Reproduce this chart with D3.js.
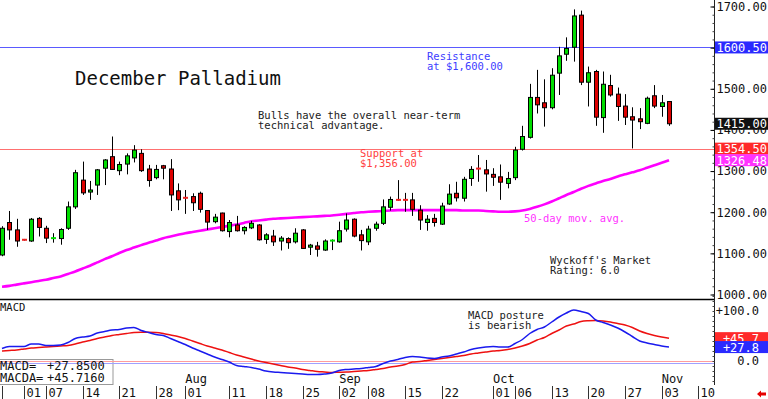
<!DOCTYPE html>
<html>
<head>
<meta charset="utf-8">
<script src="https://cdn.jsdelivr.net/npm/d3@7"></script>
<style>
  html, body { margin: 0; padding: 0; background: #fff; }
  svg text { font-family: "DejaVu Sans Mono", "Liberation Mono", monospace; }
</style>
</head>
<body>
<div id="chart"></div>
<script>
// daily OHLC, Jun 26 .. Nov 04 (trading days)
const opens = [1096,1175,1157,1134,1130,1185,1161,1136,1136,1161,1213,1278,1249,1266,1307,1335,1301,1317,1332,1343,
  1305,1284,1313,1305,1252,1236,1238,1246,1204,1177,1198,1153,1169,1155,1162,1169,1134,1142,1130,1136,
  1128,1157,1115,1118,1108,1130,1128,1159,1183,1145,1128,1161,1173,1212,1231,1231,1230,1205,1175,1185,
  1171,1220,1246,1234,1282,1307,1303,1292,1286,1270,1284,1353,1382,1479,1466,1454,1538,1584,1601,1679,
  1516,1542,1430,1508,1487,1458,1432,1427,1416,1483,1457,1469];
const highs = [1166,1203,1184,1135,1186,1188,1167,1149,1161,1226,1303,1323,1276,1305,1329,1384,1323,1343,1363,1353,
  1315,1315,1315,1329,1270,1254,1246,1250,1205,1196,1199,1181,1191,1166,1179,1171,1149,1157,1142,1139,
  1161,1159,1123,1128,1134,1134,1177,1197,1185,1157,1167,1177,1231,1238,1278,1247,1247,1217,1193,1196,
  1223,1268,1274,1286,1312,1339,1327,1307,1316,1298,1359,1410,1512,1546,1523,1550,1602,1625,1693,1690,
  1554,1546,1542,1534,1503,1487,1455,1453,1481,1509,1485,1469];
const lows = [1093,1133,1116,1131,1128,1141,1125,1126,1121,1157,1208,1242,1230,1242,1266,1303,1290,1292,1321,1298,
  1262,1280,1280,1203,1205,1196,1203,1199,1157,1173,1153,1139,1153,1146,1159,1131,1123,1118,1107,1111,
  1124,1111,1096,1092,1106,1108,1126,1153,1139,1107,1120,1155,1169,1204,1228,1201,1191,1157,1155,1165,
  1169,1218,1226,1226,1264,1274,1250,1264,1230,1258,1278,1350,1379,1440,1408,1450,1485,1568,1566,1509,
  1457,1410,1393,1481,1422,1412,1355,1402,1414,1453,1432,1410];
const closes = [1161,1157,1130,1132,1183,1163,1137,1138,1158,1213,1296,1247,1254,1303,1327,1304,1316,1337,1351,1301,
  1277,1304,1307,1242,1230,1234,1223,1207,1176,1188,1155,1175,1155,1163,1173,1133,1145,1128,1137,1126,
  1149,1112,1120,1110,1130,1132,1155,1181,1142,1131,1159,1171,1213,1231,1229,1229,1207,1181,1183,1175,
  1215,1244,1235,1280,1304,1305,1293,1285,1273,1282,1351,1384,1479,1461,1454,1533,1580,1598,1677,1516,
  1539,1431,1511,1485,1457,1431,1424,1420,1477,1458,1466,1415];

// 50-day moving average
const ma50 = [1019,1021,1024,1027,1030,1033,1036,1040,1044,1050,1056,1063,1070,1078,1086,1093,1101,1108,1114,1120,
  1126,1131,1137,1141,1145,1149,1152,1155,1158,1161,1164,1167,1170,1174,1178,1180,1182,1184,1185,1186,
  1187,1188,1189,1190,1191,1192,1194,1196,1198,1200,1201,1202,1203,1204,1205,1205,1205,1205,1205,1205,
  1205,1205,1205,1204,1204,1204,1203,1202,1201,1201,1202,1204,1208,1213,1219,1226,1234,1242,1249,1257,
  1264,1270,1276,1281,1287,1292,1297,1302,1308,1314,1320,1326.48];

// MACD (blue) and signal MACDA (red)
const macd = [25,29,29,29,34,34,31,31,32,37,45,48,50,56,59,62,63,66,67,61,
  57,53,51,45,39,33,26,20,14,8,3,-2,-9,-11,-13,-16,-20,-22,-23,-24,
  -25,-26,-27,-27,-26,-24,-19,-17,-16,-15,-13,-11,-5,0,3,7,9,8,6,5,
  8,10,14,18,23,26,28,29,28,28,35,43,55,63,68,78,88,96,102,99,
  95,82,77,72,66,58,49,40,36,33,30,27.85];
const signal = [20,21,22,24,26,27,28,29,30,31,34,38,41,45,48,51,53,55,57,57.5,
  57.5,57,55,52,49,45,40,35,30,26,22,17,12,8,4,0,-3,-6,-9,-12,
  -14,-17,-19,-21,-22,-23,-22.5,-22,-21,-20,-19,-17,-15,-12,-10,-7,-2,-1,1,3,
  5,7,9,11,14,16,18,20,21,23,26,30,35,42,47,55,62,70,74,79,
  80.5,81,80,78,75,72,67,60,55,51,48,45.716];

// date axis: day index -> label
const tickIdx = [0, 3, 6, 11, 16, 21, 25, 31, 36, 41, 46, 50, 55, 60, 67, 70, 75, 80, 85, 90, 95];
const tickLabels = ['', '01', '07', '14', '21', '28', '01', '11', '18', '25', '02', '08', '15', '22', '01', '06', '13', '20', '27', '03', '10'];
const monthIdx = [25, 46, 67, 90];
const monthLabels = ['Aug', 'Sep', 'Oct', 'Nov'];

const priceTicks = [1000, 1100, 1200, 1300, 1400, 1500, 1600, 1700];
const resistance = 1600.50;
const support = 1354.50;

const W = 768, H = 399;
const axisX = 714;

const svg = d3.select('#chart').append('svg')
  .attr('width', W)
  .attr('height', H);

const x = d3.scaleLinear().domain([0, 91]).range([2, 669]);
const y = d3.scaleLinear().domain([1000, 1700]).range([294.5, 6.5]);
const yM = d3.scaleLinear().domain([0, 100]).range([361, 311]);

// one decimal, cut not rounded (axis tags)
const trunc1 = v => (v >= 0 ? '+' : '') + (Math.floor(v * 10) / 10).toFixed(1);

// horizontal reference line across the plot (1px filled strip)
function hline(yPos, color) {
  svg.append('rect')
    .attr('x', 0).attr('width', axisX)
    .attr('y', Math.round(yPos)).attr('height', 1)
    .attr('fill', color);
}

// support / resistance lines
hline(y(resistance), '#5a5aff');
hline(y(support), '#ff7070');

// moving average
svg.append('path')
  .datum(ma50)
  .attr('fill', 'none')
  .attr('stroke', '#ff00ff')
  .attr('stroke-width', 2.6)
  .attr('d', d3.line().x((d, i) => x(i)).y(d => y(d)).curve(d3.curveMonotoneX));

// candles
const candles = svg.append('g').selectAll('g')
  .data(d3.range(opens.length))
  .enter().append('g');

candles.append('line')
  .attr('x1', i => Math.round(x(i)) + 0.5)
  .attr('x2', i => Math.round(x(i)) + 0.5)
  .attr('y1', i => y(highs[i]))
  .attr('y2', i => y(lows[i]))
  .attr('stroke', '#000');

candles.filter(i => Math.abs(opens[i] - closes[i]) >= 3)
  .append('rect')
  .attr('x', i => Math.round(x(i)) - 1.5)
  .attr('width', 4)
  .attr('y', i => y(Math.max(opens[i], closes[i])))
  .attr('height', i => Math.abs(y(opens[i]) - y(closes[i])))
  .attr('fill', i => closes[i] > opens[i] ? '#00dd00' : '#dd0000')
  .attr('stroke', '#000')
  .attr('stroke-width', 1);

// doji: short colored dash
candles.filter(i => Math.abs(opens[i] - closes[i]) < 3)
  .append('rect')
  .attr('x', i => Math.round(x(i)) - 2)
  .attr('width', 5)
  .attr('y', i => y((opens[i] + closes[i]) / 2) - 1)
  .attr('height', 2)
  .attr('fill', i => closes[i] > opens[i] ? '#00dd00' : '#ee2222');

// price panel bottom border
svg.append('line')
  .attr('x1', 0).attr('x2', axisX)
  .attr('y1', 299.5).attr('y2', 299.5)
  .attr('stroke', '#000')
  .attr('stroke-width', 1.5);

// MACD panel
svg.append('rect')
  .attr('x', -1).attr('y', 359.5)
  .attr('width', 114).attr('height', 25)
  .attr('fill', '#fff')
  .attr('stroke', '#999');

hline(yM(0), '#ff9c9c');
hline(yM(0) + 2, '#a0a0ff');

const macdLine = d3.line().x((d, i) => x(i)).y(d => yM(d)).curve(d3.curveMonotoneX);
svg.append('path').datum(signal)
  .attr('fill', 'none').attr('stroke', '#ee1111').attr('stroke-width', 1.5)
  .attr('d', macdLine);
svg.append('path').datum(macd)
  .attr('fill', 'none').attr('stroke', '#1a1aee').attr('stroke-width', 1.5)
  .attr('d', macdLine);

const legend = svg.append('g').attr('font-size', 12).attr('fill', '#111');
legend.append('text').attr('x', 0).attr('y', 369.5).text('MACD=');
legend.append('text').attr('x', 47).attr('y', 369.5).text('+' + macd[macd.length - 1].toFixed(4));
legend.append('text').attr('x', 0).attr('y', 381.5).text('MACDA=');
legend.append('text').attr('x', 47).attr('y', 381.5).text('+' + signal[signal.length - 1].toFixed(4));

svg.append('text')
  .attr('x', 0).attr('y', 311)
  .attr('font-size', 10.5)
  .attr('fill', '#111')
  .text('MACD');

// right axis line + ticks
svg.append('line')
  .attr('x1', axisX + 0.5).attr('x2', axisX + 0.5)
  .attr('y1', 0).attr('y2', 385)
  .attr('stroke', '#222');

const minorP = svg.append('g')
  .attr('transform', 'translate(' + (axisX + 0.5) + ',0)')
  .call(d3.axisLeft(y).tickValues(d3.range(1000, 1701, 20)).tickSize(2).tickFormat(''));
minorP.select('.domain').remove();
minorP.selectAll('line').attr('stroke', '#444');

const majorP = svg.append('g')
  .attr('transform', 'translate(' + (axisX + 0.5) + ',0)')
  .call(d3.axisLeft(y).tickValues(priceTicks).tickSize(4).tickFormat(''));
majorP.select('.domain').remove();

const minorM = svg.append('g')
  .attr('transform', 'translate(' + (axisX + 0.5) + ',0)')
  .call(d3.axisLeft(yM).tickValues(d3.range(-40, 131, 10)).tickSize(2).tickFormat(''));
minorM.select('.domain').remove();
minorM.selectAll('line').attr('stroke', '#444');

// price labels
const priceLabels = svg.append('g')
  .attr('transform', 'translate(770,0)')
  .call(d3.axisLeft(y).tickValues(priceTicks).tickSize(0).tickPadding(3).tickFormat(d3.format('.2f')));
priceLabels.select('.domain').remove();
priceLabels.selectAll('text')
  .attr('font-family', '"DejaVu Sans Mono", monospace')
  .attr('font-size', 12)
  .attr('fill', '#111');

const macdLabels = svg.append('g')
  .attr('transform', 'translate(762,0)')
  .call(d3.axisLeft(yM).tickValues([0, 100]).tickSize(0).tickPadding(3)
    .tickFormat(d => d === 0 ? '0.0' : '+' + d.toFixed(1)));
macdLabels.select('.domain').remove();
macdLabels.selectAll('text')
  .attr('font-family', '"DejaVu Sans Mono", monospace')
  .attr('font-size', 12)
  .attr('fill', '#111');

// value tags on the axis
function tag(yPos, color, label, right) {
  svg.append('rect')
    .attr('x', axisX + 1).attr('y', yPos - 6)
    .attr('width', W - axisX).attr('height', 12)
    .attr('fill', color);
  svg.append('text')
    .attr('x', right).attr('y', yPos + 4.5)
    .attr('text-anchor', 'end')
    .attr('font-size', 12)
    .attr('fill', '#fff')
    .text(label);
}
tag(y(resistance), '#2a2aff', resistance.toFixed(2), 767);
tag(y(closes[closes.length - 1]), '#111', closes[closes.length - 1].toFixed(2), 767);
tag(y(support), '#ff2a2a', support.toFixed(2), 767);
tag(y(ma50[ma50.length - 1]), '#ff33ff', ma50[ma50.length - 1].toFixed(2), 767);
tag(yM(signal[signal.length - 1]), '#ff2a2a', trunc1(signal[signal.length - 1]), 759);
tag(yM(macd[macd.length - 1]), '#2a2aff', trunc1(macd[macd.length - 1]), 759);

// annotations
function note(xPos, yPos, lines, color, size) {
  const t = svg.append('text')
    .attr('x', xPos).attr('y', yPos)
    .attr('font-size', size)
    .attr('fill', color);
  lines.forEach((s, k) => {
    t.append('tspan').attr('x', xPos).attr('dy', k === 0 ? 0 : 10.3).text(s);
  });
}
note(75, 85, ['December Palladium'], '#111', 19);
note(258, 119, ['Bulls have the overall near-term', 'technical advantage.'], '#222', 10.5);
note(427, 59.5, ['Resistance', 'at $1,600.00'], '#3d3dff', 10.5);
note(360, 157, ['Support at', '$1,356.00'], '#ff4040', 10.5);
note(524, 222, ['50-day mov. avg.'], '#ff33ff', 10.5);
note(550, 263.5, ["Wyckoff's Market", 'Rating: 6.0'], '#222', 10.5);
note(468, 319, ['MACD posture', 'is bearish'], '#222', 10.5);

// month labels
svg.append('g').selectAll('text')
  .data(monthIdx)
  .enter().append('text')
  .attr('x', d => x(d))
  .attr('y', 382.5)
  .attr('font-size', 12)
  .attr('fill', '#111')
  .text((d, i) => monthLabels[i]);

// date row
const dateRow = svg.append('g');
dateRow.selectAll('line')
  .data(tickIdx)
  .enter().append('line')
  .attr('x1', d => Math.round(x(d)) + 0.5)
  .attr('x2', d => Math.round(x(d)) + 0.5)
  .attr('y1', 386).attr('y2', H)
  .attr('stroke', '#333');
dateRow.selectAll('text')
  .data(tickIdx)
  .enter().append('text')
  .attr('x', d => Math.round(x(d)) + 2.5)
  .attr('y', 396.5)
  .attr('font-size', 12)
  .attr('fill', '#111')
  .text((d, i) => tickLabels[i]);

// little red arrow bottom-right
svg.append('path')
  .attr('d', 'M757,394 L761,390.5 L761,392.5 L766,392.5 L766,395.5 L761,395.5 L761,397.5 Z')
  .attr('fill', '#e60000');
</script>
</body>
</html>
